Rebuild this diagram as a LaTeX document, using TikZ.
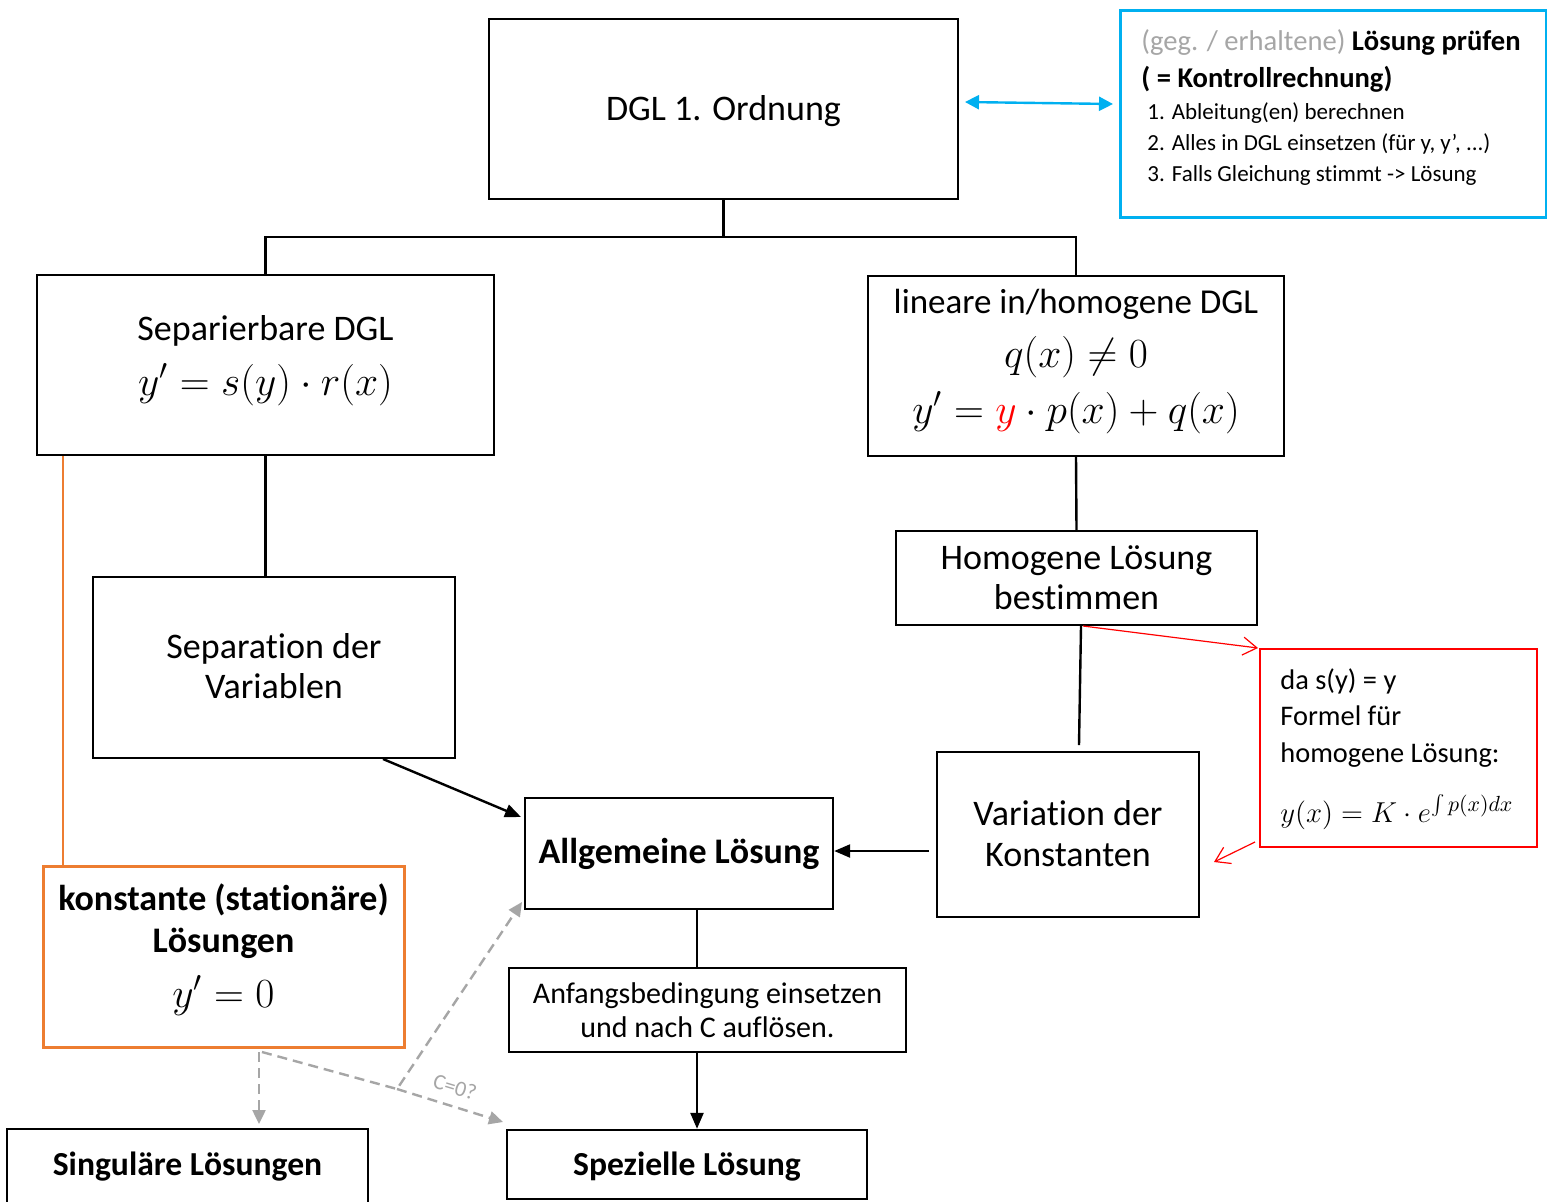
\documentclass[tikz,border=0pt]{standalone}
\usepackage{fontspec}
\setmainfont{Carlito}[Ligatures=NoCommon]
\usetikzlibrary{arrows.meta}
\definecolor{cblue}{HTML}{00B0F0}
\definecolor{corange}{HTML}{ED7D31}
\definecolor{cgray}{HTML}{A6A6A6}
\definecolor{cred}{HTML}{FF0000}
\newcommand\fsz[1]{\fontsize{#1}{#1}\selectfont}
\def\pxu{0.5pt}
\begin{document}
\begin{tikzpicture}[x=0.5pt,y=-0.5pt,
  bx/.style={draw, rectangle, line width=1.2pt, inner sep=0pt},
  tx/.style={inner sep=0pt, anchor=base},
  txl/.style={inner sep=0pt, anchor=base west},
  ln/.style={line width=1.2pt},
  arr/.style={line width=1.2pt, -{Triangle[length=8pt,width=6.5pt]}},
  garr/.style={line width=1.2pt, cgray, dash pattern=on 5pt off 3pt, -{Triangle[length=7pt,width=6.5pt]}},
  rarr/.style={line width=0.6pt, cred, -{Straight Barb[length=7pt,width=9pt]}},
  barr/.style={line width=1.2pt, cblue, {Triangle[length=7pt,width=7pt]}-{Triangle[length=7pt,width=7pt]}}
]
\useasboundingbox (0,0) rectangle (1547,1201);
\fill[white] (0,0) rectangle (1547,1201);

% boxes
\node[bx, minimum width=469*\pxu, minimum height=180*\pxu] (dgl) at (723.5,109) {};
\node[bx, draw=cblue, line width=1.5pt, minimum width=426*\pxu, minimum height=207*\pxu] (blue) at (1333,113.5) {};
\node[bx, minimum width=457*\pxu, minimum height=180*\pxu] (sep) at (265.5,365) {};
\node[bx, minimum width=416*\pxu, minimum height=180*\pxu] (lin) at (1076,366) {};
\node[bx, minimum width=362*\pxu, minimum height=181*\pxu] (spv) at (274,667.5) {};
\node[bx, minimum width=361*\pxu, minimum height=94*\pxu] (hom) at (1076.5,578) {};
\node[bx, minimum width=262*\pxu, minimum height=165*\pxu] (var) at (1068,834.5) {};
\node[bx, minimum width=308*\pxu, minimum height=111*\pxu] (allg) at (679,853.5) {};
\node[bx, draw=corange, line width=1.5pt, minimum width=361*\pxu, minimum height=181*\pxu] (kon) at (223.5,956.5) {};
\node[bx, minimum width=397*\pxu, minimum height=84*\pxu] (anf) at (707.5,1010) {};
\node[bx, minimum width=360*\pxu, minimum height=69*\pxu] (spz) at (687,1164.5) {};
\node[bx, minimum width=361*\pxu, minimum height=77*\pxu] (sing) at (187.5,1167.5) {};
\node[bx, draw=cred, line width=0.6pt, minimum width=277*\pxu, minimum height=198*\pxu] (red) at (1398.5,748) {};

% texts
\node[tx] (dglT) at (723.5,120) {\fsz{18}DGL 1. Ordnung};
\node[txl] (b1) at (1141,50) {\fsz{14.3}\textcolor{cgray}{(geg. / erhaltene)} \textbf{Lösung prüfen}};
\node[txl] (b2) at (1141,87) {\fsz{14.3}\textbf{( = Kontrollrechnung)}};
\node[txl] (b3) at (1147,119) {\fsz{11.5}1. Ableitung(en) berechnen};
\node[txl] (b4) at (1147,150) {\fsz{11.5}2. Alles in DGL einsetzen (für y, y’, ...)};
\node[txl] (b5) at (1147,181) {\fsz{11.5}3. Falls Gleichung stimmt -> Lösung};

\node[tx] (sepT1) at (265.5,340) {\fsz{18}Separierbare DGL};
\node[tx] (sepT2) at (265.5,395) {\fsz{20}$y' = s(y)\cdot r(x)$};

\node[tx] (linT1) at (1076,313) {\fsz{17.5}lineare in/homogene DGL};
\node[tx] (linT2) at (1076,367) {\fsz{20}$q(x) \neq 0$};
\node[tx] (linT3) at (1076,423) {\fsz{20}$y' = {\color{cred}y}\cdot p(x) + q(x)$};

\node[tx] (spvT1) at (274,658) {\fsz{18}Separat\kern0pt ion der};
\node[tx] (spvT2) at (274,698) {\fsz{18}Variablen};

\node[tx] (homT1) at (1076.5,569) {\fsz{18}Homogene Lösung};
\node[tx] (homT2) at (1076.5,609) {\fsz{18}bestimmen};

\node[tx] (varT1) at (1068,825) {\fsz{18}Variat\kern0pt ion der};
\node[tx] (varT2) at (1068,866) {\fsz{18}Konstanten};

\node[tx] (allgT) at (679,863) {\fsz{18}\textbf{Allgemeine Lösung}};

\node[tx] (konT1) at (223.5,910) {\fsz{18}\textbf{konstante (stat\kern0pt ionäre)}};
\node[tx] (konT2) at (223.5,952) {\fsz{18}\textbf{Lösungen}};
\node[tx] (konT3) at (223.5,1007) {\fsz{20}$y' = 0$};

\node[tx] (anfT1) at (707.5,1003) {\fsz{15}Anfangsbedingung einsetzen};
\node[tx] (anfT2) at (707.5,1037) {\fsz{15}und nach C auflösen.};

\node[tx] (spzT) at (687,1175) {\fsz{16.8}\textbf{Spezielle Lösung}};
\node[tx] (singT) at (187.5,1175) {\fsz{16.8}\textbf{Singuläre Lösungen}};

\node[txl] (r1) at (1280,689) {\fsz{14.2}da s(y) = y};
\node[txl] (r2) at (1280,725) {\fsz{14.2}Formel für};
\node[txl] (r3) at (1280,762) {\fsz{14.2}homogene Lösung:};
\node[txl] (r4) at (1280,822) {\fsz{15}$y(x) = K\cdot e^{\int p(x)dx}$};

\node[inner sep=0pt, rotate=-17, text=cgray] (c0) at (455,1087) {\fsz{11}C=0?};

% connectors
\coordinate (jn) at (723.5,237);
\draw[ln] (dgl.south) -- (jn) -| (sep.north);
\draw[ln] (jn) -| (lin.north);
\draw[ln] (sep.south) -- (sep.south |- spv.north);
\draw[ln, corange] ([xshift=27*\pxu]sep.south west) -- ([xshift=27*\pxu]sep.south west |- kon.north);
\draw[ln] (lin.south) -- (hom.north);
\coordinate (hv) at (1079,745);
\draw[ln] ([xshift=4.5*\pxu]hom.south) -- (hv);
\coordinate (vs) at (929,851);
\draw[arr] (vs) -- (allg.east |- vs);
\coordinate (ss) at (383,759);
\coordinate (se) at (521,817);
\draw[arr] (ss) -- (se);
\draw[ln] (allg.south -| 697,0) -- (anf.north -| 697,0);
\draw[arr] (anf.south -| 697,0) -- (spz.north -| 697,0);

\coordinate (g1) at (259,1052);
\coordinate (g1e) at (259,1124);
\coordinate (g2) at (262,1052);
\coordinate (gm) at (397,1089);
\coordinate (g2e) at (522,902);
\coordinate (g3e) at (503,1122);
\draw[garr] (g1) -- (g1e);
\draw[garr] (g2) -- (gm) -- (g2e);
\draw[garr] (gm) -- (g3e);

\coordinate (bl) at (965,102);
\coordinate (br) at (1113,104);
\draw[barr] (bl) -- (br);

\coordinate (rs) at (1083,626);
\coordinate (re) at (1258,648);
\draw[rarr] (rs) -- (re);
\coordinate (rs2) at (1255,842);
\coordinate (re2) at (1214,862);
\draw[rarr] (rs2) -- (re2);
\end{tikzpicture}
\end{document}
